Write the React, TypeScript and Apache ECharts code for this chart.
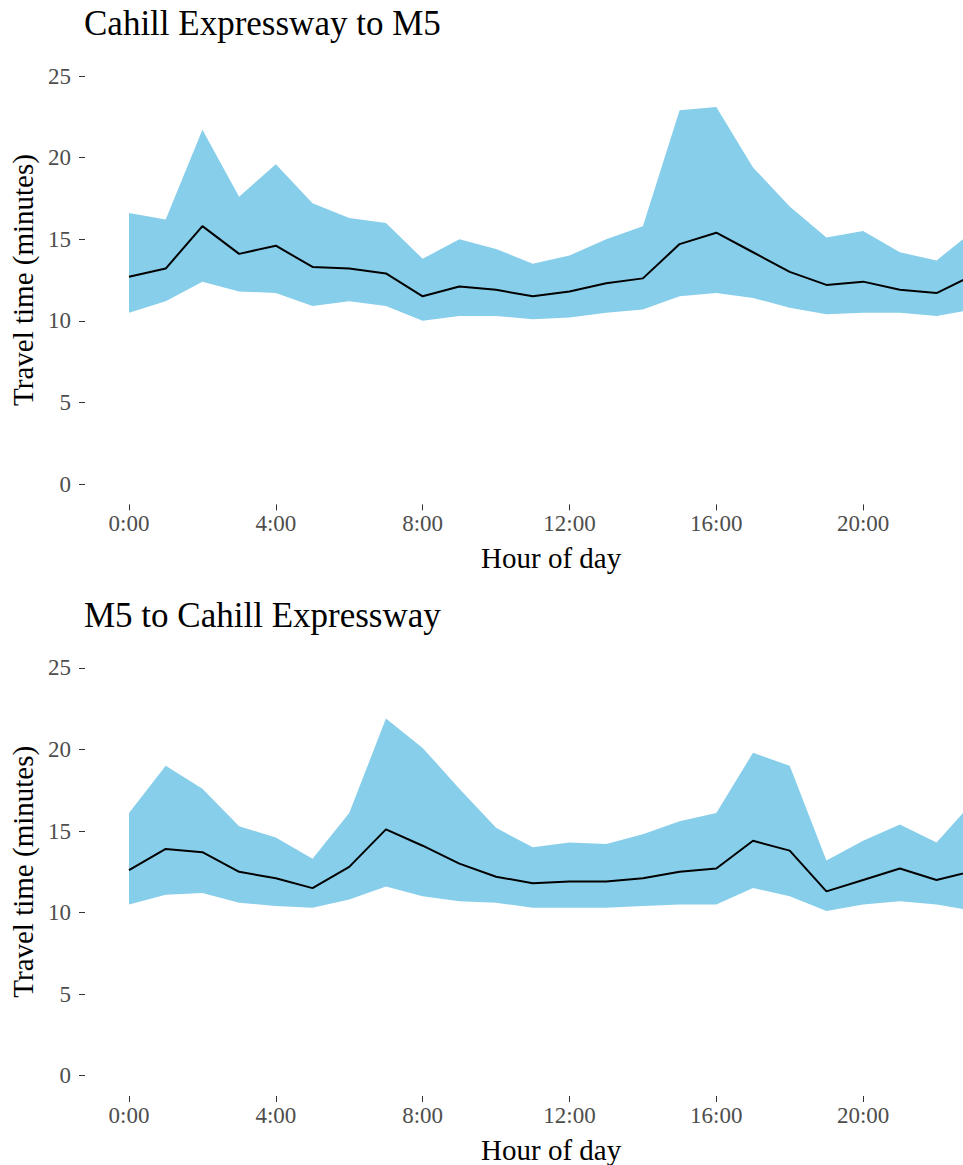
import React, { useEffect, useRef } from "react";
import * as echarts from "echarts";

const hours = [0, 1, 2, 3, 4, 5, 6, 7, 8, 9, 10, 11, 12, 13, 14, 15, 16, 17, 18, 19, 20, 21, 22, 23];
const yTicks = [0, 5, 10, 15, 20, 25];

const panelTitles = ["Cahill Expressway to M5", "M5 to Cahill Expressway"];
const xTitle = "Hour of day";
const yTitle = "Travel time (minutes)";

const cahillUpper = [16.6, 16.2, 21.7, 17.6, 19.6, 17.2, 16.3, 16.0, 13.8, 15.0, 14.4, 13.5, 14.0, 15.0, 15.8, 22.9, 23.1, 19.4, 17.0, 15.1, 15.5, 14.2, 13.7, 15.5];
const cahillMedian = [12.7, 13.2, 15.8, 14.1, 14.6, 13.3, 13.2, 12.9, 11.5, 12.1, 11.9, 11.5, 11.8, 12.3, 12.6, 14.7, 15.4, 14.2, 13.0, 12.2, 12.4, 11.9, 11.7, 12.8];
const cahillLower = [10.5, 11.2, 12.4, 11.8, 11.7, 10.9, 11.2, 10.9, 10.0, 10.3, 10.3, 10.1, 10.2, 10.5, 10.7, 11.5, 11.7, 11.4, 10.8, 10.4, 10.5, 10.5, 10.3, 10.7];

const m5Upper = [16.1, 19.0, 17.6, 15.3, 14.6, 13.3, 16.1, 21.9, 20.1, 17.6, 15.2, 14.0, 14.3, 14.2, 14.8, 15.6, 16.1, 19.8, 19.0, 13.2, 14.4, 15.4, 14.3, 16.8];
const m5Median = [12.6, 13.9, 13.7, 12.5, 12.1, 11.5, 12.8, 15.1, 14.1, 13.0, 12.2, 11.8, 11.9, 11.9, 12.1, 12.5, 12.7, 14.4, 13.8, 11.3, 12.0, 12.7, 12.0, 12.55];
const m5Lower = [10.5, 11.1, 11.2, 10.6, 10.4, 10.3, 10.8, 11.6, 11.0, 10.7, 10.6, 10.3, 10.3, 10.3, 10.4, 10.5, 10.5, 11.5, 11.0, 10.1, 10.5, 10.7, 10.5, 10.1];

const FONT = "Liberation Serif";
const CHART_W = 980;
const CHART_H = 1165;
// y range with ggplot-style 5% expansion around 0..25
const Y_MIN = -1.25;
const Y_MAX = 26.25;
const PX_PER_UNIT = 16.32;

export default function App() {
  const ref = useRef<HTMLDivElement>(null);

  useEffect(() => {
    if (!ref.current) return;
    const chart = echarts.init(ref.current, undefined, { renderer: "svg" });

    const panels = [
      { lower: cahillLower, median: cahillMedian, upper: cahillUpper, zeroY: 484 },
      { lower: m5Lower, median: m5Median, upper: m5Upper, zeroY: 1076 },
    ];

    const grids: any[] = [];
    const xAxes: any[] = [];
    const yAxes: any[] = [];
    const series: any[] = [];
    const titles: any[] = [];

    panels.forEach((p, i) => {
      const top = p.zeroY - Y_MAX * PX_PER_UNIT;
      const height = (Y_MAX - Y_MIN) * PX_PER_UNIT;
      grids.push({
        left: 128,
        right: CHART_W - 973.25,
        top,
        height,
        containLabel: false,
      });
      titles.push({
        text: panelTitles[i],
        left: 84,
        top: p.zeroY - 478,
        padding: 0,
        textStyle: { fontFamily: FONT, fontSize: 35, fontWeight: "normal", color: "#000" },
      });
      xAxes.push({
        type: "category",
        gridIndex: i,
        data: hours,
        boundaryGap: false,
        position: "bottom",
        axisLine: { show: false, onZero: false },
        axisTick: { show: true, interval: 3, length: 6, lineStyle: { color: "#333", width: 1 } },
        axisLabel: {
          interval: 3,
          margin: 8,
          color: "#4d4d4d",
          fontFamily: FONT,
          fontSize: 23,
          formatter: (v: string) => `${v}:00`,
        },
        splitLine: { show: false },
        name: xTitle,
        nameLocation: "middle",
        nameGap: 39,
        nameTextStyle: { fontFamily: FONT, fontSize: 29, color: "#000" },
      });
      yAxes.push({
        type: "value",
        gridIndex: i,
        min: Y_MIN,
        max: Y_MAX,
        offset: 44,
        axisLine: { show: false, onZero: false },
        axisTick: { show: true, length: 6, customValues: yTicks, lineStyle: { color: "#333", width: 1 } },
        axisLabel: {
          customValues: yTicks,
          margin: 14,
          color: "#4d4d4d",
          fontFamily: FONT,
          fontSize: 23,
        },
        splitLine: { show: false },
        name: yTitle,
        nameLocation: "middle",
        nameGap: 48,
        nameTextStyle: { fontFamily: FONT, fontSize: 29, color: "#000" },
      });
      const stackId = "band" + i;
      series.push({
        type: "line",
        xAxisIndex: i,
        yAxisIndex: i,
        data: p.lower,
        stack: stackId,
        symbol: "none",
        lineStyle: { width: 0, opacity: 0 },
        silent: true,
      });
      series.push({
        type: "line",
        xAxisIndex: i,
        yAxisIndex: i,
        data: p.upper.map((u, k) => +(u - p.lower[k]).toFixed(3)),
        stack: stackId,
        symbol: "none",
        lineStyle: { width: 0, opacity: 0 },
        areaStyle: { color: "#87CEEB", opacity: 1 },
        silent: true,
      });
      series.push({
        type: "line",
        xAxisIndex: i,
        yAxisIndex: i,
        data: p.median,
        symbol: "none",
        lineStyle: { color: "#000", width: 2 },
        silent: true,
      });
    });

    chart.setOption({
      animation: false,
      backgroundColor: "#fff",
      textStyle: { fontFamily: FONT },
      title: titles,
      grid: grids,
      xAxis: xAxes,
      yAxis: yAxes,
      series,
    });

    return () => chart.dispose();
  }, []);

  return (
    <div style={{ position: "fixed", left: 0, top: 0, width: 963, height: CHART_H, overflow: "hidden", background: "#fff" }}>
      <div ref={ref} style={{ width: CHART_W, height: CHART_H }} />
    </div>
  );
}
